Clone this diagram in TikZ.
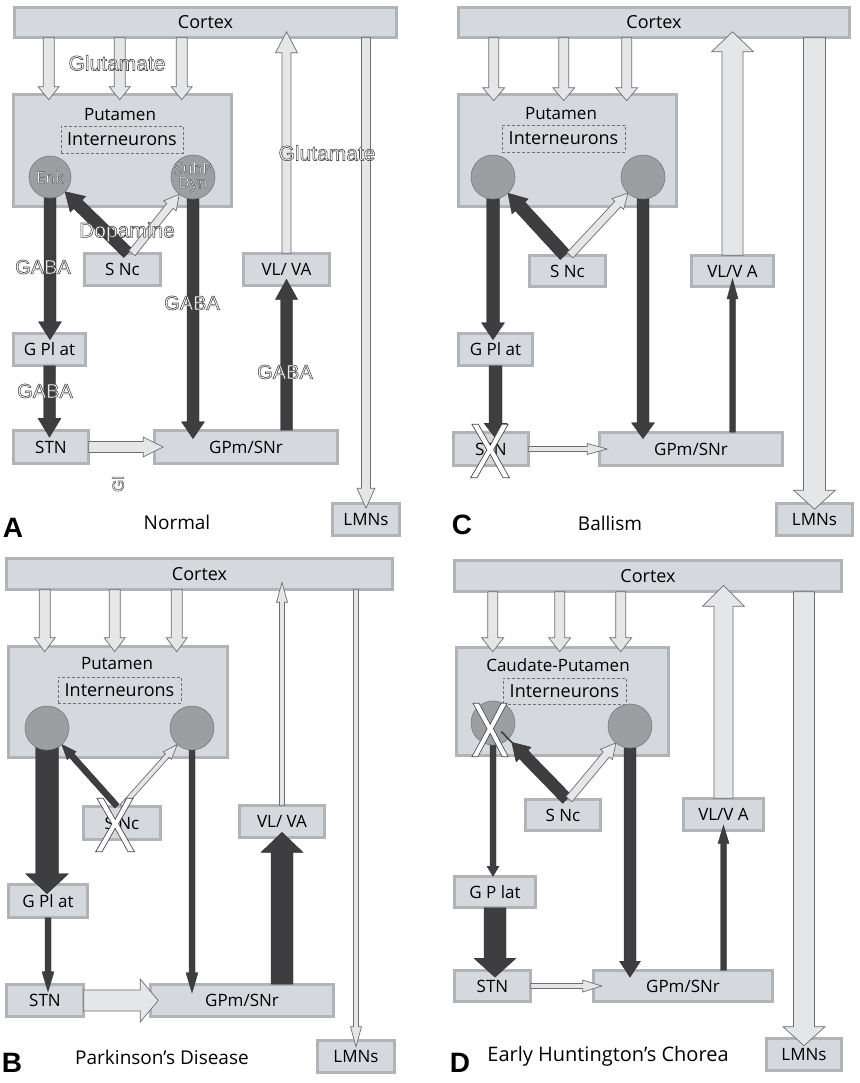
\documentclass[tikz,border=0pt]{standalone}
\usepackage{fontspec}
\setmainfont{Open Sans}
\newfontfamily\lsans{Liberation Sans}
\usetikzlibrary{calc}
\definecolor{bxfill}{RGB}{213,216,220}
\definecolor{bxband}{RGB}{176,179,183}
\definecolor{bxline}{RGB}{112,114,117}
\definecolor{cfill}{RGB}{156,159,162}
\definecolor{cline}{RGB}{120,123,126}
\definecolor{darkarr}{RGB}{62,62,64}
\definecolor{lightarr}{RGB}{228,230,232}
\definecolor{lightline}{RGB}{110,110,112}
\pgfdeclarelayer{bg}
\pgfdeclarelayer{boxes}
\pgfdeclarelayer{arrows}
\pgfsetlayers{bg,boxes,arrows,main}
\tikzset{
 bx/.style={draw=bxline, line width=0.6pt, double=bxband, double distance=2.2pt, fill=bxfill, inner sep=0pt, font=\fontsize{17}{20}\selectfont},
 ctx/.style={bx, font=\fontsize{18}{21}\selectfont},
 intbox/.style={draw=bxline, dash pattern=on 3pt off 2pt, line width=0.6pt, inner sep=0pt, font=\fontsize{18}{21}\selectfont},
 neuron/.style={circle, fill=cfill, draw=cline, line width=0.6pt, inner sep=0pt, minimum size=44pt},
 darkA/.style={fill=darkarr, draw=darkarr!80!black, line width=0.4pt},
 lightA/.style={fill=lightarr, draw=lightline, line width=0.7pt},
 oli/.style={text=white, inner sep=0pt, font=\lsans\fontsize{21}{24}\selectfont},
 gaba/.style={font=\lsans\fontsize{20}{22}\selectfont},
 cirtxt/.style={font=\fontsize{16}{17}\selectfont, align=center},
 xmk/.style={font=\lsans\fontsize{78}{80}\selectfont},
 ttl/.style={font=\fontsize{19}{22}\selectfont, inner sep=0pt},
 plab/.style={font=\lsans\bfseries\fontsize{28}{30}\selectfont, inner sep=0pt},
 putl/.style={font=\fontsize{17}{20}\selectfont, inner sep=0pt},
}
% box node from outer bounds
\newcommand\bxnode[7][bx]{%
  \node[#1, minimum width={#5-#3-3}, minimum height={#6-#4-3}] (#2) at ({(#3+#5)/2},{(#4+#6)/2}) {#7};}
% fat arrow: style, from, to, half shaft, half head, head length, shorten at tip
\newcommand\farr[7]{%
  \coordinate (fa) at #2;
  \coordinate (fb0) at #3;
  \coordinate (fb) at ($(fb0)!#7pt!(fa)$);
  \coordinate (fh) at ($(fb)!#6pt!(fa)$);
  \path[#1] ($(fa)!#4pt!90:(fb)$) -- ($(fh)!#4pt!-90:(fa)$) -- ($(fh)!#5pt!-90:(fa)$) -- (fb)
     -- ($(fh)!#5pt!90:(fa)$) -- ($(fh)!#4pt!90:(fa)$) -- ($(fa)!#4pt!-90:(fb)$) -- cycle;}
% outlined text (white fill, grey stroke)
\newcommand\otext[2][0.6]{\special{pdf:literal direct #1 w 0.28 G 2 Tr}#2\special{pdf:literal direct 0 Tr}}

\begin{document}
\begin{tikzpicture}[x=1pt,y=-1pt]
\begin{pgfonlayer}{bg}
\fill[white] (0,0) rectangle (859,1083);
\end{pgfonlayer}
\useasboundingbox (0,0) rectangle (859,1083);

% ================= boxes =================
\begin{pgfonlayer}{boxes}
% ---- A
\bxnode[ctx]{Actx}{13}{6}{398}{39}{Cortex}
\bxnode{Aput}{12}{93}{233}{208}{}
\node[intbox, minimum width=122, minimum height=27] (Aint) at (122,139.5) {Interneurons};
\bxnode{Asnc}{83}{252}{162}{287}{S Nc}
\bxnode{Avl}{242}{252}{331}{287}{VL/ VA}
\bxnode{Agpl}{12}{332}{87}{367}{G Pl at}
\bxnode{Astn}{12}{429}{90}{465}{STN}
\bxnode{Agpm}{153}{429}{339}{465}{GPm/SNr}
\bxnode{Almn}{331}{502}{401}{537}{LMNs}
% ---- C
\bxnode[ctx]{Cctx}{457}{6}{851}{39}{Cortex}
\bxnode{Cput}{457}{93}{678}{208}{}
\node[intbox, minimum width=123, minimum height=27] (Cint) at (563.5,138.5) {Interneurons};
\bxnode{Csnc}{528}{254}{607}{288}{S Nc}
\bxnode{Cvl}{690}{254}{775}{288}{VL/V A}
\bxnode{Cgpl}{457}{332}{534}{367}{G Pl at}
\bxnode{Cstn}{452}{431}{530}{467}{STN}
\bxnode{Cgpm}{598}{431}{784}{467}{GPm/SNr}
\bxnode{Clmn}{775}{502}{854}{537}{LMNs}
% ---- B
\bxnode[ctx]{Bctx}{5}{557}{394}{591}{Cortex}
\bxnode{Bput}{7}{645}{229}{759}{}
\node[intbox, minimum width=123, minimum height=26] (Bint) at (119.5,690) {Interneurons};
\bxnode{Bsnc}{82}{805}{162}{841}{S Nc}
\bxnode{Bvl}{238}{804}{326}{839}{VL/ VA}
\bxnode{Bgpl}{7}{883}{89}{919}{G Pl at}
\bxnode{Bstn}{5}{983}{85}{1018}{STN}
\bxnode{Bgpm}{149}{983}{335}{1018}{GPm/SNr}
\bxnode{Blmn}{316}{1039}{396}{1074}{LMNs}
% ---- D
\bxnode[ctx]{Dctx}{453}{559}{843}{593}{Cortex}
\bxnode{Dput}{455}{646}{670}{757}{}
\node[intbox, minimum width=123, minimum height=26] (Dint) at (564.5,691) {Interneurons};
\bxnode{Dsnc}{524}{798}{602}{832}{S Nc}
\bxnode{Dvl}{682}{797}{765}{832}{VL/V A}
\bxnode{Dgpl}{453}{875}{537}{909}{G P lat}
\bxnode{Dstn}{453}{969}{532}{1003}{STN}
\bxnode{Dgpm}{592}{969}{774}{1003}{GPm/SNr}
\bxnode{Dlmn}{765}{1037}{843}{1072}{LMNs}
\end{pgfonlayer}

% ================= neurons =================
\node[neuron, minimum size=42pt] (Aenk) at (50,177) {};
\node[neuron] (Asub) at (193,177) {};
\node[neuron] (Cl) at (493,177) {};
\node[neuron] (Cr) at (643,177) {};
\node[neuron] (Bl) at (47,728) {};
\node[neuron] (Br) at (192,728) {};
\node[neuron] (Dl) at (493,723) {};
\node[neuron] (Dr) at (630,726) {};

% ================= arrows =================
\begin{pgfonlayer}{arrows}
% ---- A
\foreach \dx in {35.5,106.5,168.5}{\farr{lightA}{($(Aput.north west |- Actx.south)+(\dx,0)$)}{($(Aput.north west)+(\dx,0)$)}{5.5}{10.5}{13}{-5.5}}
\farr{lightA}{(Avl.north)}{(Avl.north |- Actx.south)}{4.5}{11}{21}{-6}
\farr{lightA}{(Almn.north |- Actx.south)}{(Almn.north)}{4.5}{9}{20}{-5}
\farr{darkA}{(Aenk)}{(Aenk |- Agpl.north)}{6}{11.5}{18}{-6.5}
\farr{darkA}{(Agpl.south)}{(Agpl.south |- Astn.north)}{6}{11.5}{19}{-7}
\farr{darkA}{(Asub)}{(Asub |- Agpm.north)}{6}{11.5}{17}{-8.5}
\farr{darkA}{(Avl.south |- Agpm.north)}{(Avl.south)}{6}{11}{20}{-6.5}
\farr{darkA}{($(Asnc.north)+(5.5,0)$)}{(Aenk)}{6}{11}{18}{21}
\farr{lightA}{($(Asnc.north)+(9.5,0)$)}{(Asub)}{4}{8}{15}{22}
\farr{lightA}{(Astn.east)}{(Agpm.west)}{5.5}{10}{20}{-9}
% ---- C
\foreach \dx in {35.5,105.5,168.5}{\farr{lightA}{($(Cput.north west |- Cctx.south)+(\dx,0)$)}{($(Cput.north west)+(\dx,0)$)}{5}{11}{13}{-6.5}}
\farr{lightA}{(Cvl.north)}{(Cvl.north |- Cctx.south)}{10.5}{21}{20}{-6}
\farr{lightA}{(Clmn.north |- Cctx.south)}{(Clmn.north)}{11}{21}{19}{-6}
\farr{darkA}{(Cl)}{(Cl |- Cgpl.north)}{6.5}{11.5}{17}{-6.5}
\farr{darkA}{(Cgpl.south)}{(Cgpl.south |- Cstn.north)}{6.5}{11.5}{15}{-6}
\farr{darkA}{(Cr)}{(Cr |- Cgpm.north)}{6}{11.5}{16}{-6.5}
\farr{darkA}{(Cvl.south |- Cgpm.north)}{(Cvl.south)}{3}{5.5}{20}{-8}
\farr{darkA}{($(Csnc.north)+(-2.5,0)$)}{(Cl)}{6.5}{11}{18}{22}
\farr{lightA}{($(Csnc.north)+(2.5,0)$)}{(Cr)}{4}{8}{15}{22}
\farr{lightA}{(Cstn.east)}{(Cgpm.west)}{2.5}{5.5}{20}{-8}
% ---- B
\foreach \dx in {36.5,106.5,168.5}{\farr{lightA}{($(Bput.north west |- Bctx.south)+(\dx,0)$)}{($(Bput.north west)+(\dx,0)$)}{5.5}{10.5}{14}{-5.5}}
\farr{lightA}{(Bvl.north)}{(Bvl.north |- Bctx.south)}{2.5}{5.5}{20}{-7.5}
\farr{lightA}{(Blmn.north |- Bctx.south)}{(Blmn.north)}{2.5}{5.5}{20}{-6.5}
\farr{darkA}{(Bl)}{(Bl |- Bgpl.north)}{11.5}{21.5}{20}{-9.5}
\farr{darkA}{(Bgpl.south)}{(Bgpl.south |- Bstn.north)}{3}{6}{20}{-7.5}
\farr{darkA}{(Br)}{(Br |- Bgpm.north)}{3}{6}{20}{-8.5}
\farr{darkA}{(Bvl.south |- Bgpm.north)}{(Bvl.south)}{11}{21}{20}{-5.5}
\farr{darkA}{($(Bsnc.north)+(-5,0)$)}{(Bl)}{3}{6}{15}{22}
\farr{lightA}{($(Bsnc.north)+(0,0)$)}{(Br)}{2.5}{5.5}{15}{22}
\farr{lightA}{(Bstn.east)}{(Bgpm.west)}{10.5}{21.5}{18}{-8}
% ---- D
\foreach \dx in {36.5,103.5,164.5}{\farr{lightA}{($(Dput.north west |- Dctx.south)+(\dx,0)$)}{($(Dput.north west)+(\dx,0)$)}{5}{11}{14}{-4.5}}
\farr{lightA}{(Dvl.north)}{(Dvl.north |- Dctx.south)}{9.5}{21}{21}{-6.5}
\farr{lightA}{(Dlmn.north |- Dctx.south)}{(Dlmn.north)}{10.5}{21}{19}{-7.5}
\farr{darkA}{(Dl)}{(Dl |- Dgpl.north)}{3}{6}{10}{0}
\farr{darkA}{(Dgpl.south)}{(Dgpl.south |- Dstn.north)}{11}{21}{19}{-7}
\farr{darkA}{(Dr)}{(Dr |- Dgpm.north)}{6}{10.5}{16}{-7}
\farr{darkA}{(Dvl.south |- Dgpm.north)}{(Dvl.south)}{3}{5.5}{18}{-5.5}
\farr{darkA}{($(Dsnc.north)+(4,0)$)}{(Dl)}{6}{10.5}{17}{27}
\farr{lightA}{($(Dsnc.north)+(6,0)$)}{(Dr)}{4}{8}{15}{22}
\farr{lightA}{(Dstn.east)}{(Dgpm.west)}{2.5}{6}{19}{-8.5}
\end{pgfonlayer}

% ================= texts =================
% ---- A
\node[putl] (Aputl) at (120,115) {Putamen};
\node[oli,cirtxt] (Aenkt) at (Aenk) {\otext[0.4]{Enk}};
\node[oli,cirtxt] (Asubt) at (Asub) {\otext[0.4]{SubP}\\[-3pt]\otext[0.4]{Dyn}};
\node[oli] (Aglu1) at (117,63) {\otext{Glutamate}};
\node[oli] (Aglu2) at (327,153) {\otext{Glutamate}};
\node[oli] (Adop) at (127,232) {\otext{Dopamine}};
\node[oli,gaba] (Aga1) at (43,267) {\otext{GABA}};
\node[oli,gaba] (Aga2) at (192,303) {\otext{GABA}};
\node[oli,gaba] (Aga3) at (45,391) {\otext{GABA}};
\node[oli,gaba] (Aga4) at (285,372) {\otext{GABA}};
\node[oli, font=\lsans\fontsize{16}{18}\selectfont, rotate=90] (Agl) at (118,484) {\otext[0.5]{Gl}};
\node[ttl] (Attl) at (177,522) {Normal};
\node[plab] (Alab) at (13,528) {A};
% ---- C
\node[putl] (Cputl) at (561,114) {Putamen};
\node[oli,xmk] (Cx) at (490,451) {\otext[0.8]{\scalebox{0.8}[1]{X}}};
\node[ttl] (Cttl) at (610,523) {Ballism};
\node[plab] (Clab) at (462,525) {C};
% ---- B
\node[putl] (Bputl) at (117,664) {Putamen};
\node[oli,xmk] (Bx) at (115,825) {\otext[0.8]{\scalebox{0.8}[1]{X}}};
\node[ttl] (Bttl) at (162,1057) {Parkinson’s Disease};
\node[plab] (Blab) at (12,1063) {B};
% ---- D
\node[putl] (Dputl) at (558,665) {Caudate-Putamen};
\node[oli,xmk] (Dx) at (490,730) {\otext[0.8]{\scalebox{0.75}[1]{X}}};
\draw[darkarr, line width=1.6pt] ($(Dsnc.north)+(4,0)$) -- ($(Dl)!12pt!($(Dsnc.north)+(4,0)$)$);
\node[ttl, font=\fontsize{20}{22}\selectfont] (Dttl) at (608,1056) {Early Huntington's Chorea};
\node[plab] (Dlab) at (460,1063) {D};
\end{tikzpicture}
\end{document}
